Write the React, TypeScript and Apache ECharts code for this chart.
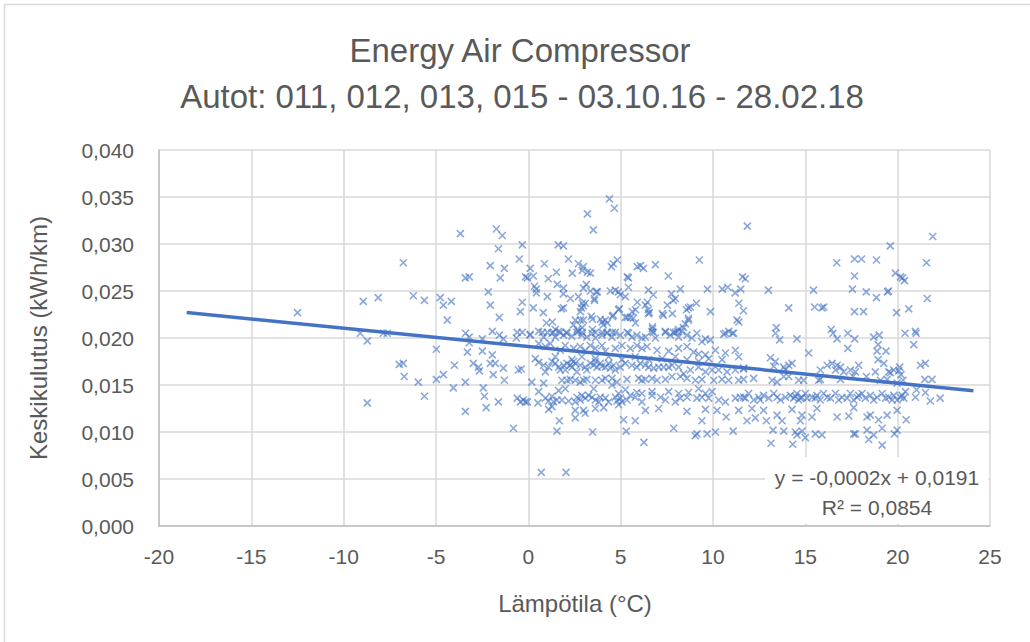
import React, { useEffect, useRef } from "react";
import * as echarts from "echarts";

// ---------- texts ----------
const TITLE_LINES = ["Energy Air Compressor", "Autot: 011, 012, 013, 015 - 03.10.16 - 28.02.18"];
const X_AXIS_NAME = "Lämpötila (°C)";
const Y_AXIS_NAME = "Keskikulutus (kWh/km)";
const EQUATION_LINES = ["y = -0,0002x + 0,0191", "R² = 0,0854"];

// ---------- axes ----------
const X_MIN = -20;
const X_MAX = 25;
const X_STEP = 5;
const Y_MIN = 0;
const Y_MAX = 0.04;
const Y_STEP = 0.005;

// ---------- linear trend (as shown by the chart) ----------
const TREND_SLOPE = -0.000195;
const TREND_INTERCEPT = 0.0191;
const TREND_X_RANGE = [-18.5, 24.1];

// ---------- scatter data: [temperature °C, kWh/km] ----------
const pointsWest = [
  [-12.5, 0.0227], [-8.94, 0.0239], [-8.13, 0.0243], [-9.1, 0.0205], [-8.72, 0.0197], [-8.72, 0.0131],
  [-7.85, 0.0205], [-7.64, 0.0205], [-6.77, 0.028], [-6.99, 0.0172], [-6.77, 0.0173], [-6.72, 0.0159],
  [-6.23, 0.0245], [-5.96, 0.0153], [-5.63, 0.024], [-5.63, 0.0138], [-4.98, 0.0188], [-4.98, 0.0156],
  [-4.77, 0.0243], [-4.6, 0.0235], [-4.6, 0.0161], [-4.39, 0.0219], [-4.17, 0.0239], [-4.06, 0.0147],
  [-4.0, 0.0171], [-3.68, 0.0311], [-3.41, 0.0264], [-3.2, 0.0265], [-3.4, 0.0205], [-3.41, 0.0153],
  [-3.41, 0.0122], [-3.3, 0.0185], [-3.2, 0.0195], [-3.2, 0.0201], [-2.98, 0.0173], [-2.7, 0.0169],
  [-2.65, 0.0165], [-2.49, 0.0186], [-2.44, 0.0147], [-2.38, 0.0138], [-2.28, 0.0126], [-2.49, 0.0199],
  [-2.17, 0.0249], [-2.06, 0.0277], [-2.06, 0.0235], [-2.06, 0.0173], [-1.95, 0.0207], [-1.95, 0.0182],
  [-1.9, 0.0161], [-1.79, 0.0173], [-1.73, 0.0316], [-1.62, 0.0295], [-1.57, 0.0222], [-1.52, 0.0264],
  [-1.62, 0.0132], [-1.41, 0.0309], [-1.35, 0.0168], [-1.3, 0.0274], [-1.3, 0.0155], [-1.57, 0.0203],
  [-1.35, 0.0199], [-0.81, 0.0104], [-0.65, 0.02], [-0.6, 0.0206], [-0.6, 0.0136], [-0.54, 0.0166],
  [-0.49, 0.0284], [-0.43, 0.0228], [-0.38, 0.0167], [-0.33, 0.0299], [-0.33, 0.0238], [-0.33, 0.0206],
  [-0.16, 0.0265], [-0.16, 0.0132], [-0.05, 0.0264], [-0.43, 0.0132], [-0.27, 0.0134], [-0.05, 0.0132],
];

const pointsCentreHigh = [
  [0.1, 0.0274], [0.27, 0.0266], [0.27, 0.0232], [0.33, 0.0255], [0.43, 0.0252], [0.43, 0.0248],
  [0.87, 0.0279], [1.08, 0.0263], [1.03, 0.0244], [0.81, 0.0227], [0.98, 0.0216], [1.3, 0.0217],
  [1.52, 0.027], [1.57, 0.0257], [1.62, 0.0299], [1.9, 0.0298], [1.9, 0.0253], [1.9, 0.0247],
  [1.79, 0.0231], [1.9, 0.0232], [2.17, 0.0284], [2.38, 0.0269], [2.28, 0.0242], [2.71, 0.0279],
  [2.98, 0.0276], [2.92, 0.0272], [3.2, 0.027], [3.36, 0.0269], [2.98, 0.0253], [3.14, 0.0257],
  [3.36, 0.025], [3.68, 0.0249], [2.92, 0.0237], [2.98, 0.0234], [3.58, 0.0242], [2.82, 0.0228],
  [2.87, 0.0232], [3.09, 0.0237], [2.71, 0.0244], [3.41, 0.0223], [3.47, 0.022], [2.55, 0.0219],
  [2.82, 0.0219], [2.98, 0.0219], [2.44, 0.0214], [2.92, 0.0211], [2.65, 0.0209], [3.9, 0.022],
  [4.17, 0.0219], [4.28, 0.0216], [4.06, 0.0214], [4.0, 0.0217], [4.6, 0.0224], [4.55, 0.0223],
  [4.93, 0.0231], [4.88, 0.023], [4.5, 0.0276], [4.6, 0.0279], [4.82, 0.0283], [4.44, 0.025],
  [4.71, 0.0251], [4.88, 0.0249], [4.98, 0.0246], [3.74, 0.0249], [3.58, 0.024], [3.2, 0.0332],
  [3.52, 0.0315], [4.39, 0.0348], [4.66, 0.0338], [5.25, 0.0222], [5.36, 0.0265], [5.42, 0.0264],
  [5.25, 0.0244], [5.42, 0.0254],
  [5.9, 0.0276], [6.07, 0.0277], [6.23, 0.0274], [6.88, 0.0278], [7.58, 0.0266], [9.26, 0.0283],
  [6.5, 0.0251], [6.77, 0.0246], [5.9, 0.0238], [6.45, 0.0238], [6.34, 0.0235], [7.85, 0.024],
  [7.96, 0.0242], [8.23, 0.0252], [7.75, 0.0247], [7.53, 0.0235], [6.5, 0.023], [5.63, 0.0228],
  [5.8, 0.023], [5.36, 0.0222], [6.5, 0.0226], [7.31, 0.0224], [7.8, 0.0226], [8.67, 0.0232],
  [8.78, 0.0233], [9.1, 0.0237], [9.7, 0.0252], [9.86, 0.0228], [8.67, 0.0221], [8.5, 0.0215],
  [8.4, 0.0211], [6.72, 0.021], [6.77, 0.0206], [7.42, 0.0206], [7.85, 0.0206], [8.07, 0.0207],
  [10.5, 0.0252], [10.8, 0.0254], [11.6, 0.0265], [11.75, 0.0263], [11.2, 0.0248], [11.5, 0.0252],
  [11.4, 0.0237], [11.65, 0.0229], [11.3, 0.0219], [11.4, 0.0217], [10.67, 0.0205], [11.05, 0.0205],
  [11.86, 0.0319], [5.53, 0.0222], [5.69, 0.0221], [5.8, 0.0216], [6.72, 0.0212], [6.55, 0.0227],
  [7.26, 0.0226], [8.13, 0.0209], [8.56, 0.023], [8.67, 0.0219],
];

const pointsCentreRow20 = [
  [0.1, 0.0204], [0.76, 0.0206], [1.03, 0.0206], [1.35, 0.0206], [1.46, 0.0209], [1.73, 0.0206],
  [2.06, 0.0206], [2.71, 0.0207], [2.92, 0.0206], [3.47, 0.0209], [3.63, 0.0206], [4.0, 0.0206],
  [4.28, 0.0206], [4.55, 0.0206], [5.36, 0.0206],
  [0.1, 0.0203], [0.56, 0.0207], [0.83, 0.0201], [1.28, 0.0205], [1.46, 0.0201], [1.64, 0.0207],
  [1.91, 0.0203], [2.09, 0.0205], [2.36, 0.0202], [2.63, 0.0206], [2.9, 0.0203], [3.17, 0.0201],
  [3.45, 0.0205], [3.63, 0.02], [3.99, 0.0203], [4.26, 0.0205], [4.53, 0.0201], [4.71, 0.0206],
  [4.98, 0.0203], [5.43, 0.0205], [5.61, 0.0201], [5.88, 0.0203], [6.15, 0.02], [6.34, 0.0201],
  [6.7, 0.0207], [6.88, 0.02], [7.42, 0.0207], [7.69, 0.0203], [7.96, 0.0206], [8.14, 0.0201],
  [8.32, 0.0207], [8.59, 0.0203], [8.86, 0.02], [9.13, 0.0205], [9.4, 0.0196], [9.59, 0.0199],
  [9.86, 0.0198], [10.58, 0.0204], [10.85, 0.0207], [11.12, 0.0205],
  [0.56, 0.0194], [0.92, 0.0191], [1.19, 0.0194], [1.73, 0.0187], [2.0, 0.0192], [2.45, 0.0189],
  [2.81, 0.0191], [3.08, 0.0187], [3.36, 0.0192], [3.63, 0.0189], [3.99, 0.0192], [4.17, 0.0186],
  [4.71, 0.0189], [5.07, 0.0192], [5.52, 0.0189], [5.88, 0.0192], [6.15, 0.0189], [6.43, 0.0191],
  [6.97, 0.0187], [7.6, 0.0186], [8.14, 0.0189], [8.59, 0.0191], [8.95, 0.0185], [9.22, 0.0183],
  [9.59, 0.0182], [10.13, 0.0187], [10.67, 0.0184], [11.21, 0.0187],
  [0.38, 0.0178], [1.46, 0.018], [2.36, 0.0177], [2.9, 0.018], [3.63, 0.0178], [4.35, 0.018],
  [5.07, 0.0177], [5.79, 0.018], [6.52, 0.0177], [7.24, 0.0178], [7.96, 0.018], [8.59, 0.0177],
  [9.22, 0.0175], [9.77, 0.0178], [10.49, 0.0177], [11.39, 0.018],
];

const pointsCentreBands = [
  [0.56, 0.0174], [0.83, 0.0171], [1.1, 0.0169], [1.46, 0.0173], [1.64, 0.0169], [1.73, 0.0166],
  [1.91, 0.0171], [2.09, 0.0173], [2.27, 0.0171], [2.36, 0.0169], [2.54, 0.0173], [2.63, 0.0164],
  [2.81, 0.0171], [3.08, 0.0169], [3.36, 0.0173], [3.54, 0.0171], [3.72, 0.0169], [3.9, 0.0173],
  [3.99, 0.017], [4.17, 0.0169], [4.44, 0.0168], [4.62, 0.0171], [4.71, 0.0166], [4.98, 0.0169],
  [5.25, 0.0173], [5.61, 0.0171], [5.88, 0.0169], [6.06, 0.0173], [6.34, 0.0171], [6.52, 0.0169],
  [6.79, 0.0168], [7.06, 0.0169], [7.33, 0.0169], [7.6, 0.0169], [7.78, 0.0171], [8.14, 0.0169],
  [8.41, 0.0162], [8.77, 0.0166], [9.22, 0.0169], [9.59, 0.0164], [9.95, 0.0166], [10.31, 0.0166],
  [10.76, 0.0164], [11.21, 0.0166], [11.66, 0.0168], [1.28, 0.0175], [2.45, 0.0175], [3.17, 0.0166],
  [3.63, 0.0175], [4.35, 0.0173], [2.0, 0.0166], [0.92, 0.0164],
  [0.19, 0.0153], [0.83, 0.0152], [1.82, 0.0155], [2.09, 0.0155], [2.27, 0.0156], [2.54, 0.0155],
  [2.81, 0.0153], [2.99, 0.0155], [3.17, 0.0156], [3.63, 0.0155], [3.99, 0.0155], [4.17, 0.0157],
  [4.53, 0.0157], [4.8, 0.0153], [5.34, 0.0156], [5.97, 0.0157], [6.15, 0.0155], [6.34, 0.0156],
  [6.7, 0.0157], [6.97, 0.0155], [7.42, 0.0156], [7.78, 0.0159], [8.23, 0.0159], [8.59, 0.0157],
  [9.04, 0.0155], [9.4, 0.0156], [10.04, 0.0155], [10.49, 0.0156], [10.85, 0.0155], [11.39, 0.0155],
  [0.56, 0.0143], [1.64, 0.0144], [2.0, 0.0146], [3.54, 0.0146], [4.53, 0.015], [4.89, 0.0141],
  [5.25, 0.0145], [5.88, 0.0142], [6.15, 0.0141], [6.7, 0.0143], [7.6, 0.0143], [8.14, 0.0141],
  [8.68, 0.0142], [9.22, 0.0146], [9.59, 0.0141], [9.95, 0.0143],
  [0.52, 0.0131], [0.92, 0.0136], [1.1, 0.0133], [1.28, 0.0138], [1.55, 0.0134], [1.82, 0.0134],
  [2.18, 0.0133], [2.54, 0.0132], [2.63, 0.0137], [2.9, 0.0139], [3.08, 0.0136], [3.45, 0.0137],
  [3.63, 0.0134], [3.9, 0.0137], [4.17, 0.0136], [4.35, 0.0132], [4.71, 0.0137], [4.98, 0.0136],
  [5.07, 0.0132], [5.34, 0.0134], [5.52, 0.0139], [5.79, 0.0137], [6.15, 0.0132], [6.7, 0.0139],
  [7.15, 0.0137], [7.42, 0.0134], [7.96, 0.0132], [8.23, 0.0136], [8.59, 0.0137], [9.13, 0.0136],
  [9.4, 0.0137], [9.77, 0.0136], [10.31, 0.0134], [10.67, 0.0132], [11.21, 0.0136], [11.66, 0.0137],
  [1.37, 0.0132], [2.81, 0.0134], [3.27, 0.0139], [4.8, 0.0133], [3.81, 0.0132],
  [1.1, 0.0124], [1.28, 0.0127], [2.54, 0.0123], [2.99, 0.0123], [3.08, 0.012], [3.63, 0.0125],
  [4.08, 0.0126], [4.89, 0.0129], [6.34, 0.0123], [7.06, 0.0125], [8.59, 0.0122], [9.59, 0.0124],
  [10.22, 0.0123], [11.39, 0.0123],
  [1.68, 0.0112], [2.54, 0.0115], [5.16, 0.0113], [5.79, 0.0112], [9.4, 0.0112], [10.71, 0.0116],
  [1.55, 0.0101], [3.48, 0.01], [5.3, 0.0101], [7.87, 0.0104], [9.04, 0.0096], [9.13, 0.0098],
  [9.68, 0.0098], [10.13, 0.01], [11.09, 0.0101], [6.26, 0.0089], [0.7, 0.0057], [2.04, 0.0057],
];

const pointsEast = [
  [13.0, 0.0251], [14.1, 0.0232], [13.43, 0.0211], [13.38, 0.0205], [15.44, 0.0251], [15.5, 0.0233],
  [15.9, 0.0232], [16.0, 0.0233], [16.7, 0.028], [17.66, 0.0284], [18.04, 0.0284], [18.85, 0.0283],
  [19.6, 0.0298], [17.66, 0.0266], [17.55, 0.0252], [18.3, 0.0249], [18.85, 0.0243], [19.45, 0.0249],
  [19.5, 0.025], [17.66, 0.0228], [18.15, 0.0228], [19.88, 0.0269], [20.15, 0.0265], [20.26, 0.0264],
  [20.37, 0.0261], [19.94, 0.0227], [20.6, 0.0231], [21.56, 0.028], [21.6, 0.0242], [21.9, 0.0308],
  [16.4, 0.0209], [16.5, 0.0205], [17.3, 0.0205], [18.7, 0.0201], [19.0, 0.0203], [20.4, 0.0205],
  [21.0, 0.0205], [20.96, 0.0207],
  [13.61, 0.0198], [14.55, 0.0199], [15.18, 0.0184], [16.72, 0.0199], [17.67, 0.0199], [17.3, 0.0189],
  [18.94, 0.0193], [18.88, 0.0186], [19.37, 0.0186], [20.87, 0.0193],
  [13.11, 0.0179], [13.38, 0.0175], [13.29, 0.017], [13.83, 0.0169], [14.1, 0.0171], [14.28, 0.0173],
  [13.92, 0.0166], [15.81, 0.0166], [16.18, 0.0171], [16.45, 0.0173], [16.72, 0.0171], [16.9, 0.0169],
  [16.63, 0.0166], [17.08, 0.0164], [17.44, 0.0166], [17.71, 0.0164], [17.89, 0.0171], [18.79, 0.0164],
  [19.52, 0.0164], [18.94, 0.0177], [19.25, 0.0173], [20.11, 0.0169], [19.79, 0.0166], [20.06, 0.0165],
  [19.61, 0.0163], [21.23, 0.0171], [21.5, 0.0173], [11.66, 0.0167],
  [12.2, 0.0157], [11.66, 0.0156], [13.2, 0.0155], [13.47, 0.0153], [13.83, 0.0159], [14.1, 0.0159],
  [14.64, 0.0155], [14.91, 0.0155], [15.81, 0.0156], [15.72, 0.0155], [16.9, 0.0156], [17.58, 0.0159],
  [18.31, 0.0159], [19.07, 0.0155], [19.43, 0.0156], [20.18, 0.0161], [20.29, 0.0155], [19.97, 0.0152],
  [21.47, 0.0156], [21.86, 0.0156],
  [11.48, 0.0137], [11.75, 0.0136], [11.93, 0.0141], [12.2, 0.0134], [12.47, 0.0137], [12.74, 0.0139],
  [13.02, 0.0136], [13.29, 0.0141], [13.47, 0.0137], [13.65, 0.0134], [13.92, 0.0137], [14.19, 0.0139],
  [14.37, 0.0136], [14.55, 0.0141], [14.64, 0.0134], [14.82, 0.0137], [15.0, 0.0141], [15.09, 0.0136],
  [15.36, 0.0137], [15.63, 0.0139], [15.81, 0.0134], [15.99, 0.0141], [16.18, 0.0137], [16.36, 0.0136],
  [16.63, 0.0141], [16.81, 0.0134], [16.99, 0.0137], [17.26, 0.0136], [17.44, 0.0141], [17.62, 0.0134],
  [17.89, 0.0139], [18.07, 0.0141], [18.25, 0.0136], [18.52, 0.0139], [18.7, 0.0134], [18.88, 0.0137],
  [19.16, 0.0141], [19.34, 0.0136], [19.52, 0.0137], [19.79, 0.0139], [19.97, 0.0134], [20.15, 0.0137],
  [20.33, 0.0136], [20.42, 0.0143], [20.96, 0.0137], [21.5, 0.0142], [21.77, 0.0133], [22.3, 0.0136],
  [21.02, 0.0145], [14.46, 0.0138], [14.73, 0.0136], [17.8, 0.0137], [19.7, 0.0134], [20.24, 0.0139],
  [12.56, 0.0134], [15.54, 0.0136],
  [12.11, 0.0125], [12.74, 0.0123], [12.89, 0.0112], [12.29, 0.0115], [11.84, 0.0112], [13.47, 0.0118],
  [13.74, 0.0112], [14.28, 0.0124], [14.82, 0.0118], [14.73, 0.0112], [15.36, 0.0116], [15.63, 0.0125],
  [16.72, 0.0116], [17.35, 0.0117], [17.62, 0.0126], [18.34, 0.0116], [18.52, 0.0118], [18.97, 0.0113],
  [19.43, 0.0118], [19.97, 0.0123], [20.46, 0.0113],
  [13.25, 0.0102], [13.83, 0.0101], [14.46, 0.01], [14.55, 0.0097], [14.82, 0.0101], [15.0, 0.0094],
  [15.54, 0.0098], [15.9, 0.0097], [17.62, 0.0098], [17.71, 0.0098], [18.34, 0.0102], [18.43, 0.0092],
  [18.7, 0.0097], [19.16, 0.0104], [19.16, 0.0086], [19.82, 0.0098], [19.97, 0.0102], [13.14, 0.0088],
  [14.32, 0.0087],
];

const GREY_TEXT = "#595959";
const FONT = "Liberation Sans, Arial, sans-serif";
const BLUE = "#4472C4";

export default function App() {
  const ref = useRef<HTMLDivElement>(null);

  useEffect(() => {
    if (!ref.current) return;
    const chart = echarts.init(ref.current, undefined, { renderer: "svg" });
    const scatterData = [
      ...pointsWest,
      ...pointsCentreHigh,
      ...pointsCentreRow20,
      ...pointsCentreBands,
      ...pointsEast,
    ];
    const trendData = TREND_X_RANGE.map((x) => [x, TREND_SLOPE * x + TREND_INTERCEPT]);

    chart.setOption({
      animation: false,
      backgroundColor: "#ffffff",
      grid: { left: 159, right: 40, top: 150, bottom: 116, containLabel: false },
      xAxis: {
        type: "value",
        min: X_MIN,
        max: X_MAX,
        interval: X_STEP,
        axisLine: { show: true, onZero: false, lineStyle: { color: "#bfbfbf", width: 1.5 } },
        axisTick: { show: false },
        splitLine: { show: true, lineStyle: { color: "#d9d9d9", width: 1.5 } },
        axisLabel: { color: GREY_TEXT, fontSize: 21, fontFamily: FONT, margin: 20 },
      },
      yAxis: {
        type: "value",
        min: Y_MIN,
        max: Y_MAX,
        interval: Y_STEP,
        axisLine: { show: true, onZero: false, lineStyle: { color: "#bfbfbf", width: 1.5 } },
        axisTick: { show: false },
        splitLine: { show: true, lineStyle: { color: "#d9d9d9", width: 1.5 } },
        axisLabel: {
          color: GREY_TEXT,
          fontSize: 21,
          fontFamily: FONT,
          margin: 25,
          formatter: (v: number) => v.toFixed(3).replace(".", ","),
        },
      },
      series: [
        {
          type: "scatter",
          data: scatterData,
          symbol: "path://M0 0L10 10M10 0L0 10",
          symbolSize: 7,
          itemStyle: { color: "transparent", borderColor: BLUE, borderWidth: 1.6, opacity: 0.62 },
          z: 2,
        },
        {
          type: "line",
          data: trendData,
          showSymbol: false,
          symbol: "none",
          lineStyle: { color: BLUE, width: 3.5 },
          z: 3,
        },
      ],
      graphic: [
        {
          type: "rect",
          shape: { x: 4.5, y: 4.5, width: 1040, height: 660 },
          style: { fill: "none", stroke: "#d9d9d9", lineWidth: 1.5 },
          silent: true,
          z: 0,
        },
        {
          type: "text",
          x: 520,
          y: 50,
          style: {
            text: TITLE_LINES[0],
            font: `33px ${FONT}`,
            fill: GREY_TEXT,
            textAlign: "center",
            textVerticalAlign: "middle",
          },
        },
        {
          type: "text",
          x: 522,
          y: 96,
          style: {
            text: TITLE_LINES[1],
            font: `33px ${FONT}`,
            fill: GREY_TEXT,
            textAlign: "center",
            textVerticalAlign: "middle",
          },
        },
        {
          type: "text",
          x: 575,
          y: 603,
          style: {
            text: X_AXIS_NAME,
            font: `24px ${FONT}`,
            fill: GREY_TEXT,
            textAlign: "center",
            textVerticalAlign: "middle",
          },
        },
        {
          type: "text",
          x: 38,
          y: 338,
          rotation: Math.PI / 2,
          style: {
            text: Y_AXIS_NAME,
            font: `24px ${FONT}`,
            fill: GREY_TEXT,
            textAlign: "center",
            textVerticalAlign: "middle",
          },
        },
        {
          type: "rect",
          z: 100,
          shape: { x: 765, y: 457, width: 223, height: 67 },
          style: { fill: "#ffffff" },
          silent: true,
        },
        {
          type: "text",
          z: 101,
          x: 877,
          y: 477,
          style: {
            text: EQUATION_LINES[0],
            font: `21px ${FONT}`,
            fill: GREY_TEXT,
            textAlign: "center",
            textVerticalAlign: "middle",
          },
        },
        {
          type: "text",
          z: 101,
          x: 877,
          y: 507,
          style: {
            text: EQUATION_LINES[1],
            font: `21px ${FONT}`,
            fill: GREY_TEXT,
            textAlign: "center",
            textVerticalAlign: "middle",
          },
        },
      ],
    });

    return () => chart.dispose();
  }, []);

  return (
    <div
      ref={ref}
      style={{ position: "fixed", left: 0, top: 0, width: 1030, height: 642, background: "#fff" }}
    />
  );
}
